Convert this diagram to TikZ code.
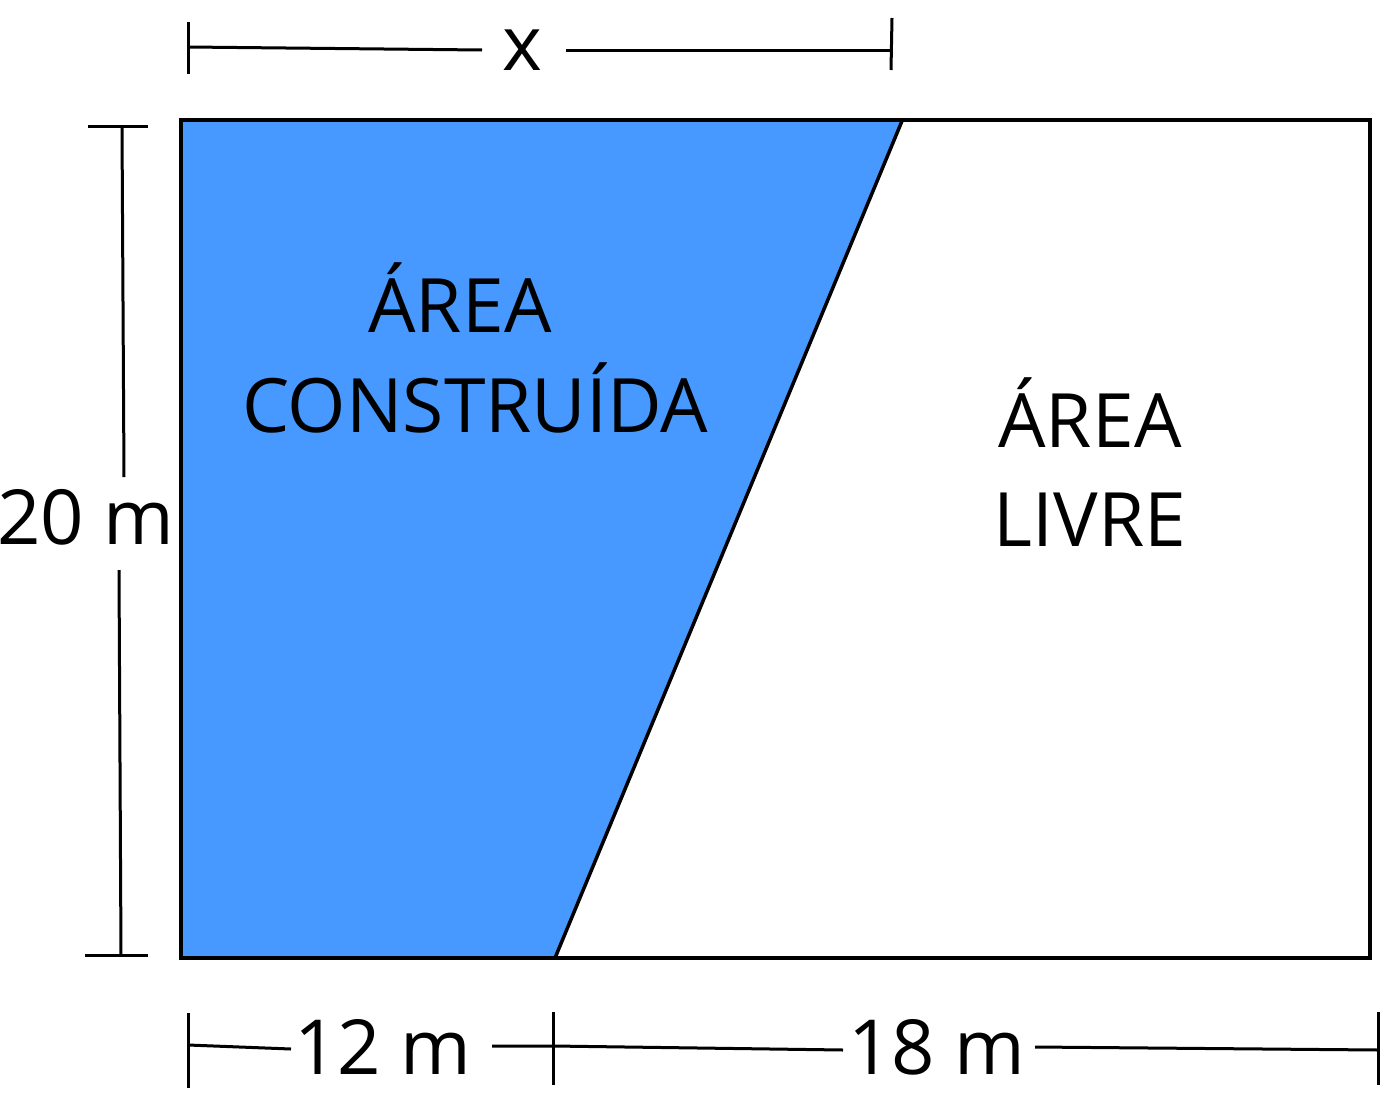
\documentclass[tikz,border=0pt]{standalone}
\usepackage{fontspec}
\setmainfont{Open Sans}
\definecolor{areablue}{RGB}{71,153,255}
\begin{document}
\begin{tikzpicture}[x=1pt,y=-1pt,
  edge/.style={line width=3.5pt,line join=miter},
  dim/.style={line width=3pt},
  lbl/.style={inner sep=0pt,anchor=base,font=\fontsize{75}{84}\selectfont},
  dimlbl/.style={inner sep=0pt,anchor=base,font=\fontsize{76}{84}\selectfont}]
\useasboundingbox (0,0) rectangle (1382,1095);
% corners
\coordinate (TL) at (181,120);
\coordinate (TR) at (1370,120);
\coordinate (BR) at (1370,958);
\coordinate (BL) at (181,958);
\coordinate (TM) at (902,121);
\coordinate (BM) at (555,958);
% areas
\fill[areablue] (TL) -- (TM) -- (BM) -- (BL) -- cycle;
\draw[edge] (TL) -- (TR) -- (BR) -- (BL) -- cycle;
\draw[edge] (TM) -- (BM);
% labels
\node[lbl] (a1) at (460,332) {ÁREA};
\node[lbl] (a2) at (475,432) {CONSTRUÍDA};
\node[lbl] (b1) at (1090,447) {ÁREA};
\node[lbl] (b2) at (1090,546) {LIVRE};
% top dimension
\node[dimlbl] (xl) at (522,70) {x};
\coordinate (t1a) at (188,22); \coordinate (t1b) at (188,74);
\coordinate (t2a) at (892,18); \coordinate (t2b) at (891,70);
\draw[dim] (t1a) -- (t1b);
\draw[dim] (t2a) -- (t2b);
\coordinate (tl1) at (188,47); \coordinate (tl2) at (482,50);
\coordinate (tr1) at (566,50); \coordinate (tr2) at (891,50);
\draw[dim] (tl1) -- (tl2);
\draw[dim] (tr1) -- (tr2);
% left dimension
\node[dimlbl] (hl) at (86,544) {20 m};
\coordinate (l1a) at (88,126); \coordinate (l1b) at (148,126);
\coordinate (l2a) at (85,955); \coordinate (l2b) at (148,955);
\draw[dim] (l1a) -- (l1b);
\draw[dim] (l2a) -- (l2b);
\coordinate (lv1) at (122,126); \coordinate (lv2) at (124,477);
\coordinate (lv3) at (119,570); \coordinate (lv4) at (121,955);
\draw[dim] (lv1) -- (lv2);
\draw[dim] (lv3) -- (lv4);
% bottom dimension
\node[dimlbl] (w1) at (383,1074) {12 m};
\node[dimlbl] (w2) at (937,1074) {18 m};
\coordinate (b1a) at (188,1013); \coordinate (b1b) at (188,1088);
\coordinate (b2a) at (553,1012); \coordinate (b2b) at (553,1085);
\coordinate (b3a) at (1378,1012); \coordinate (b3b) at (1378,1085);
\draw[dim] (b1a) -- (b1b);
\draw[dim] (b2a) -- (b2b);
\draw[dim] (b3a) -- (b3b);
\coordinate (bl1) at (188,1045); \coordinate (bl2) at (291,1049);
\coordinate (bl3) at (492,1046); \coordinate (bl4) at (553,1046);
\coordinate (bl5) at (843,1050);
\coordinate (bl6) at (1035,1047); \coordinate (bl7) at (1378,1050);
\draw[dim] (bl1) -- (bl2);
\draw[dim] (bl3) -- (bl4) -- (bl5);
\draw[dim] (bl6) -- (bl7);
\end{tikzpicture}
\end{document}
